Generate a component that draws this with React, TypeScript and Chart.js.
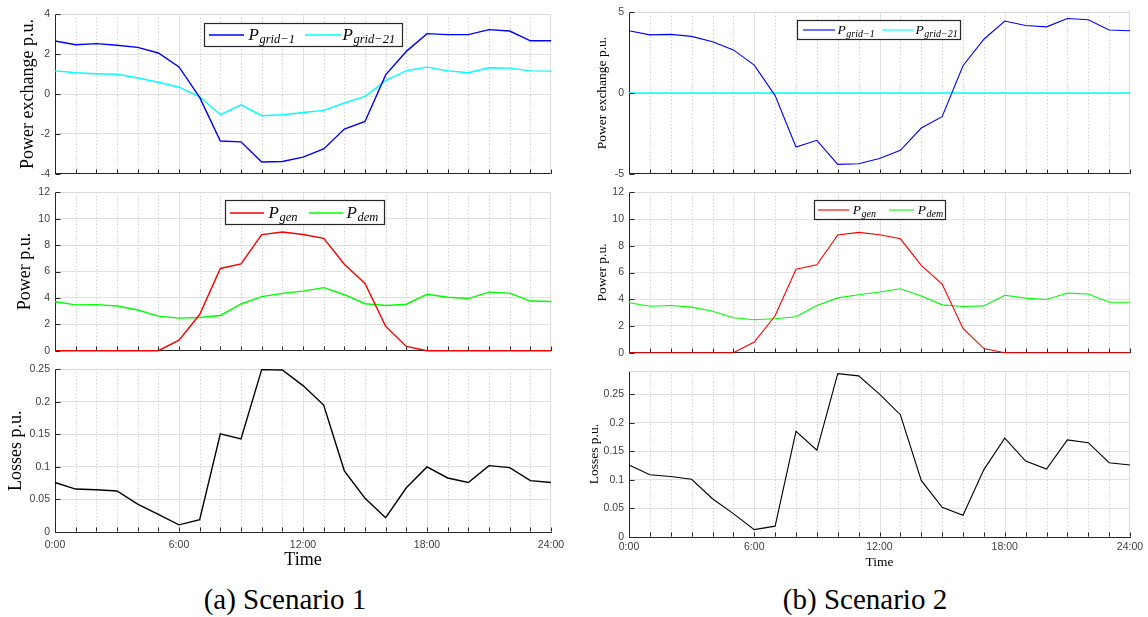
import React, { useEffect, useRef } from 'react';
import { Chart, registerables } from 'chart.js';

Chart.register(...registerables);

// ---------------- data ----------------
const HOURS = [0, 1, 2, 3, 4, 5, 6, 7, 8, 9, 10, 11, 12, 13, 14, 15, 16, 17, 18, 19, 20, 21, 22, 23, 24];

// Scenario 1
const S1_P_GRID_1 = [2.66, 2.47, 2.53, 2.45, 2.34, 2.06, 1.36, -0.17, -2.36, -2.40, -3.41, -3.39, -3.17, -2.76, -1.76, -1.38, 0.96, 2.14, 3.03, 2.98, 2.98, 3.23, 3.16, 2.67, 2.67];
const S1_P_GRID_21 = [1.16, 1.07, 1.02, 0.99, 0.80, 0.59, 0.34, -0.14, -1.04, -0.54, -1.09, -1.04, -0.93, -0.82, -0.45, -0.12, 0.67, 1.17, 1.35, 1.16, 1.07, 1.32, 1.30, 1.16, 1.15];
const S1_P_GEN = [0, 0, 0, 0, 0, 0, 0.80, 2.74, 6.23, 6.57, 8.80, 8.99, 8.80, 8.51, 6.55, 5.09, 1.84, 0.32, 0, 0, 0, 0, 0, 0, 0];
const S1_P_DEM = [3.71, 3.47, 3.49, 3.39, 3.08, 2.62, 2.47, 2.52, 2.67, 3.54, 4.10, 4.34, 4.51, 4.78, 4.24, 3.56, 3.42, 3.52, 4.27, 4.05, 3.95, 4.44, 4.36, 3.76, 3.73];
const S1_LOSSES = [0.076, 0.066, 0.065, 0.063, 0.043, 0.027, 0.011, 0.019, 0.151, 0.143, 0.2495, 0.249, 0.225, 0.195, 0.094, 0.052, 0.022, 0.068, 0.100, 0.083, 0.076, 0.102, 0.099, 0.079, 0.076];

// Scenario 2
const S2_P_GRID_1 = [3.86, 3.60, 3.63, 3.51, 3.17, 2.67, 1.73, -0.16, -3.35, -2.93, -4.42, -4.38, -4.06, -3.55, -2.17, -1.47, 1.69, 3.33, 4.46, 4.18, 4.10, 4.62, 4.54, 3.90, 3.86];
const S2_P_GRID_21 = [0, 0, 0, 0, 0, 0, 0, 0, 0, 0, 0, 0, 0, 0, 0, 0, 0, 0, 0, 0, 0, 0, 0, 0, 0];
const S2_P_GEN = [0, 0, 0, 0, 0, 0, 0.80, 2.76, 6.24, 6.58, 8.81, 9.00, 8.83, 8.52, 6.53, 5.14, 1.82, 0.31, 0, 0, 0, 0, 0, 0, 0];
const S2_P_DEM = [3.74, 3.48, 3.53, 3.41, 3.10, 2.62, 2.47, 2.54, 2.69, 3.53, 4.10, 4.34, 4.54, 4.78, 4.25, 3.58, 3.46, 3.50, 4.30, 4.08, 3.98, 4.46, 4.39, 3.77, 3.77];
const S2_LOSSES = [0.126, 0.109, 0.106, 0.101, 0.067, 0.041, 0.013, 0.019, 0.185, 0.152, 0.286, 0.282, 0.250, 0.214, 0.099, 0.052, 0.038, 0.118, 0.173, 0.133, 0.119, 0.170, 0.165, 0.130, 0.126];

// axis tick settings
const EXCH_RANGE_1 = [-4, 4, 2];
const EXCH_RANGE_2 = [-5, 5, 5];
const POWER_RANGE = [0, 12, 2];
const LOSS_RANGE_1 = [0, 0.25, 0.05];
const LOSS_RANGE_2 = [0, 0.29, 0.05];
const X_LABEL_STEP = 6;

const CAPTIONS = ['(a) Scenario 1', '(b) Scenario 2'];

// ---------------- styles ----------------
const SERIF = '"Liberation Serif", "Times New Roman", serif';
const SANS = '"Liberation Sans", Arial, Helvetica, sans-serif';
const AXIS_COLOR = '#262626';
const TICK_LABEL_COLOR = '#404040';
const GRID_COLOR = '#e1e1e1';
const MINOR_COLOR = '#c2c2c2';
const BOX_COLOR = '#dadada';
const BLUE = '#0000ff';
const CYAN = '#00ffff';
const RED = '#ff0000';
const GREEN = '#00ff00';
const BLACK = '#000000';

type LegendItem = { color: string; sub: string; x1: number; x2: number; tx: number };
type LegendSpec = { x: number; y: number; w: number; h: number; pSize: number; subSize: number; lw: number; items: LegendItem[] };
type XAxisSpec = { labelPad: number; titleCenter: number; titleSize: number };
type Spec = {
  cl: number; ct: number; cr: number; cb: number;
  al: number; at: number; ar: number; ab: number;
  range: number[]; includeBounds: boolean;
  yTitle: string; titleSize: number; titleCenter: number;
  series: { data: number[]; color: string; width: number }[];
  legend?: LegendSpec;
  xAxis?: XAxisSpec;
};

const LEFT_BIG = 18;
const RIGHT_SMALL = 13.5;
const LW_LEFT = 1.4;
const LW_RIGHT = 1.1;

const SPECS: Spec[] = [
  {
    cl: 0, ct: 3, cr: 575, cb: 185, al: 55, at: 12, ar: 551, ab: 177,
    range: EXCH_RANGE_1, includeBounds: true,
    yTitle: 'Power exchange p.u.', titleSize: LEFT_BIG, titleCenter: 28,
    series: [{ data: S1_P_GRID_1, color: BLUE, width: LW_LEFT }, { data: S1_P_GRID_21, color: CYAN, width: LW_LEFT }],
    legend: {
      x: 149, y: 8.7, w: 198, h: 23.3, pSize: 17, subSize: 12.5, lw: 1.5,
      items: [
        { color: BLUE, sub: 'grid\u22121', x1: 4, x2: 39, tx: 44 },
        { color: CYAN, sub: 'grid\u221221', x1: 100, x2: 136, tx: 138 },
      ],
    },
  },
  {
    cl: 0, ct: 181, cr: 575, cb: 362, al: 55, at: 190, ar: 551, ab: 354,
    range: POWER_RANGE, includeBounds: true,
    yTitle: 'Power p.u.', titleSize: LEFT_BIG, titleCenter: 25,
    series: [{ data: S1_P_GEN, color: RED, width: LW_LEFT }, { data: S1_P_DEM, color: GREEN, width: LW_LEFT }],
    legend: {
      x: 170, y: 7.3, w: 158.5, h: 24.4, pSize: 17, subSize: 12.5, lw: 1.5,
      items: [
        { color: RED, sub: 'gen', x1: 4, x2: 38, tx: 43 },
        { color: GREEN, sub: 'dem', x1: 83, x2: 117, tx: 121 },
      ],
    },
  },
  {
    cl: 0, ct: 358, cr: 575, cb: 576, al: 55, at: 367, ar: 551, ab: 532,
    range: LOSS_RANGE_1, includeBounds: true,
    yTitle: 'Losses p.u.', titleSize: LEFT_BIG, titleCenter: 16,
    series: [{ data: S1_LOSSES, color: BLACK, width: LW_LEFT }],
    xAxis: { labelPad: 6.5, titleCenter: 560, titleSize: LEFT_BIG },
  },
  {
    cl: 575, ct: 1, cr: 1148, cb: 185, al: 629, at: 10, ar: 1130, ab: 177,
    range: EXCH_RANGE_2, includeBounds: true,
    yTitle: 'Power exchange p.u.', titleSize: RIGHT_SMALL, titleCenter: 27,
    series: [{ data: S2_P_GRID_1, color: BLUE, width: LW_RIGHT }, { data: S2_P_GRID_21, color: CYAN, width: 1.6 }],
    legend: {
      x: 168, y: 7.7, w: 163, h: 18.6, pSize: 13.5, subSize: 10, lw: 1.1,
      items: [
        { color: BLUE, sub: 'grid\u22121', x1: 5, x2: 37, tx: 40 },
        { color: CYAN, sub: 'grid\u221221', x1: 84, x2: 114.5, tx: 118 },
      ],
    },
  },
  {
    cl: 575, ct: 181, cr: 1148, cb: 364, al: 629, at: 190, ar: 1130, ab: 356,
    range: POWER_RANGE, includeBounds: true,
    yTitle: 'Power p.u.', titleSize: RIGHT_SMALL, titleCenter: 27,
    series: [{ data: S2_P_GEN, color: RED, width: LW_RIGHT }, { data: S2_P_DEM, color: GREEN, width: LW_RIGHT }],
    legend: {
      x: 184.7, y: 7.3, w: 131, h: 19.4, pSize: 13.5, subSize: 10, lw: 1.1,
      items: [
        { color: RED, sub: 'gen', x1: 3.3, x2: 34.3, tx: 38.3 },
        { color: GREEN, sub: 'dem', x1: 74.3, x2: 99, tx: 103.3 },
      ],
    },
  },
  {
    cl: 575, ct: 360, cr: 1148, cb: 577, al: 629, at: 369, ar: 1130, ab: 537,
    range: LOSS_RANGE_2, includeBounds: false,
    yTitle: 'Losses p.u.', titleSize: RIGHT_SMALL, titleCenter: 19,
    series: [{ data: S2_LOSSES, color: BLACK, width: LW_RIGHT }],
    xAxis: { labelPad: 4.2, titleCenter: 562, titleSize: RIGHT_SMALL },
  },
];

function fmt(v: number): string {
  return String(Math.round(v * 1000) / 1000);
}

function drawLegend(ctx: CanvasRenderingContext2D, L: LegendSpec, areaLeft: number, areaTop: number) {
  const bx = Math.round(areaLeft + L.x) + 0.5;
  const by = Math.round(areaTop + L.y) + 0.5;
  const bw = Math.round(L.w);
  const bh = Math.round(L.h);
  ctx.save();
  ctx.setLineDash([]);
  ctx.fillStyle = '#ffffff';
  ctx.fillRect(bx, by, bw, bh);
  ctx.strokeStyle = AXIS_COLOR;
  ctx.lineWidth = 1.2;
  ctx.strokeRect(bx, by, bw, bh);
  const cy = Math.round(by + bh / 2);
  L.items.forEach((it) => {
    // sample line
    ctx.fillStyle = it.color;
    ctx.fillRect(Math.round(bx + it.x1), cy - L.lw / 2, Math.round(it.x2 - it.x1), L.lw);
    // label: italic P with subscript
    ctx.fillStyle = '#000000';
    ctx.textBaseline = 'alphabetic';
    ctx.textAlign = 'left';
    ctx.font = `italic ${L.pSize}px ${SERIF}`;
    const base = cy + L.pSize * 0.3;
    ctx.fillText('P', bx + it.tx, base);
    const pw = ctx.measureText('P').width;
    ctx.font = `italic ${L.subSize}px ${SERIF}`;
    ctx.fillText(it.sub, bx + it.tx + pw + 0.5, base + L.subSize * 0.25);
  });
  ctx.restore();
}

function makePlugin(spec: Spec) {
  return {
    id: 'matlabStyle',
    beforeDatasetsDraw(chart: any) {
      const { ctx, chartArea: a, scales } = chart;
      const x = scales.x;
      ctx.save();
      ctx.lineWidth = 1;
      for (const h of HOURS) {
        if (h === HOURS[0] || h === HOURS[HOURS.length - 1]) continue;
        const px = Math.round(x.getPixelForValue(h)) + 0.5;
        const major = h % X_LABEL_STEP === 0;
        ctx.strokeStyle = major ? GRID_COLOR : MINOR_COLOR;
        ctx.setLineDash(major ? [] : [1, 2.5]);
        ctx.beginPath();
        ctx.moveTo(px, a.top);
        ctx.lineTo(px, a.bottom);
        ctx.stroke();
      }
      ctx.setLineDash([]);
      ctx.strokeStyle = BOX_COLOR;
      const top = Math.round(a.top) + 0.5;
      const right = Math.round(a.right) - 0.5;
      ctx.beginPath();
      ctx.moveTo(a.left, top);
      ctx.lineTo(right, top);
      ctx.lineTo(right, a.bottom);
      ctx.stroke();
      ctx.restore();
    },
    afterDatasetsDraw(chart: any) {
      const { ctx, chartArea: a, scales } = chart;
      const x = scales.x;
      const y = scales.y;
      ctx.save();
      ctx.setLineDash([]);
      ctx.lineWidth = 1;
      ctx.strokeStyle = AXIS_COLOR;
      // inward ticks
      const bottom = Math.round(a.bottom) - 0.5;
      const left = Math.round(a.left) + 0.5;
      ctx.beginPath();
      for (const h of HOURS) {
        const px = Math.round(x.getPixelForValue(h)) + 0.5;
        ctx.moveTo(px, bottom);
        ctx.lineTo(px, bottom - 4);
      }
      for (const t of y.ticks) {
        const py = Math.round(y.getPixelForValue(t.value)) + 0.5;
        ctx.moveTo(left, py);
        ctx.lineTo(left + 5, py);
      }
      ctx.stroke();
      ctx.restore();
      if (spec.legend) drawLegend(ctx, spec.legend, a.left, a.top);
    },
  };
}

function buildConfig(spec: Spec): any {
  const [yMin, yMax, yStep] = spec.range;
  const hasX = !!spec.xAxis;
  const yLh = spec.titleSize * 1.2;
  const yTitlePad = spec.titleCenter - yLh / 2;
  const xTitleSize = spec.xAxis ? spec.xAxis.titleSize : 12;
  const xTitlePad = spec.xAxis ? spec.cb - spec.xAxis.titleCenter - (xTitleSize * 1.2) / 2 : 0;
  const xHeight = hasX ? spec.cb - spec.ab : 0;
  const yWidth = spec.al - spec.cl;

  return {
    type: 'line',
    data: {
      labels: HOURS,
      datasets: spec.series.map((s) => ({
        data: s.data,
        borderColor: s.color,
        backgroundColor: s.color,
        borderWidth: s.width,
        pointRadius: 0,
        pointHoverRadius: 0,
        tension: 0,
        fill: false,
        clip: 4,
      })),
    },
    options: {
      animation: false,
      responsive: false,
      maintainAspectRatio: false,
      events: [],
      layout: {
        padding: {
          left: 0,
          top: spec.at - spec.ct,
          right: spec.cr - spec.ar,
          bottom: hasX ? 0 : spec.cb - spec.ab,
        },
      },
      plugins: {
        legend: { display: false },
        tooltip: { enabled: false },
        title: { display: false },
      },
      scales: {
        x: {
          type: 'linear',
          min: HOURS[0],
          max: HOURS[HOURS.length - 1],
          afterFit: (scale: any) => {
            scale.height = xHeight;
          },
          grid: { display: false, drawTicks: false },
          border: { display: true, color: AXIS_COLOR, width: 1 },
          ticks: {
            display: hasX,
            stepSize: X_LABEL_STEP,
            autoSkip: false,
            maxRotation: 0,
            minRotation: 0,
            padding: spec.xAxis ? spec.xAxis.labelPad : 0,
            color: TICK_LABEL_COLOR,
            font: { family: SANS, size: 10.5 },
            callback: (v: number) => `${v}:00`,
          },
          title: {
            display: hasX,
            text: 'Time',
            color: '#000000',
            font: { family: SERIF, size: xTitleSize },
            padding: { top: 0, bottom: xTitlePad },
          },
        },
        y: {
          type: 'linear',
          min: yMin,
          max: yMax,
          afterFit: (scale: any) => {
            scale.width = yWidth;
          },
          grid: { color: GRID_COLOR, lineWidth: 1, drawTicks: false },
          border: { display: true, color: AXIS_COLOR, width: 1 },
          ticks: {
            stepSize: yStep,
            includeBounds: spec.includeBounds,
            padding: 5,
            color: TICK_LABEL_COLOR,
            font: { family: SANS, size: 10.5 },
            callback: (v: number) => fmt(v),
          },
          title: {
            display: true,
            text: spec.yTitle,
            color: '#000000',
            font: { family: SERIF, size: spec.titleSize },
            padding: { top: yTitlePad, bottom: 0 },
          },
        },
      },
    },
    plugins: [makePlugin(spec)],
  };
}

function Subplot({ spec }: { spec: Spec }) {
  const ref = useRef<HTMLCanvasElement | null>(null);
  useEffect(() => {
    if (!ref.current) return;
    const chart = new Chart(ref.current, buildConfig(spec));
    return () => chart.destroy();
  }, [spec]);
  const w = spec.cr - spec.cl;
  const h = spec.cb - spec.ct;
  return (
    <canvas
      ref={ref}
      width={w}
      height={h}
      style={{ position: 'absolute', left: spec.cl, top: spec.ct, width: w, height: h }}
    />
  );
}

const captionStyle = (center: number): React.CSSProperties => ({
  position: 'absolute',
  left: center - 160,
  width: 320,
  top: 585,
  textAlign: 'center',
  fontFamily: SERIF,
  fontSize: 29,
  lineHeight: '29px',
  color: '#000000',
  whiteSpace: 'nowrap',
});

export default function App() {
  return (
    <div
      style={{
        position: 'absolute',
        left: 0,
        top: 0,
        width: 1148,
        height: 617,
        background: '#ffffff',
        overflow: 'hidden',
      }}
    >
      {SPECS.map((s, i) => (
        <Subplot key={i} spec={s} />
      ))}
      <div style={captionStyle(285)}>{CAPTIONS[0]}</div>
      <div style={captionStyle(865)}>{CAPTIONS[1]}</div>
    </div>
  );
}
